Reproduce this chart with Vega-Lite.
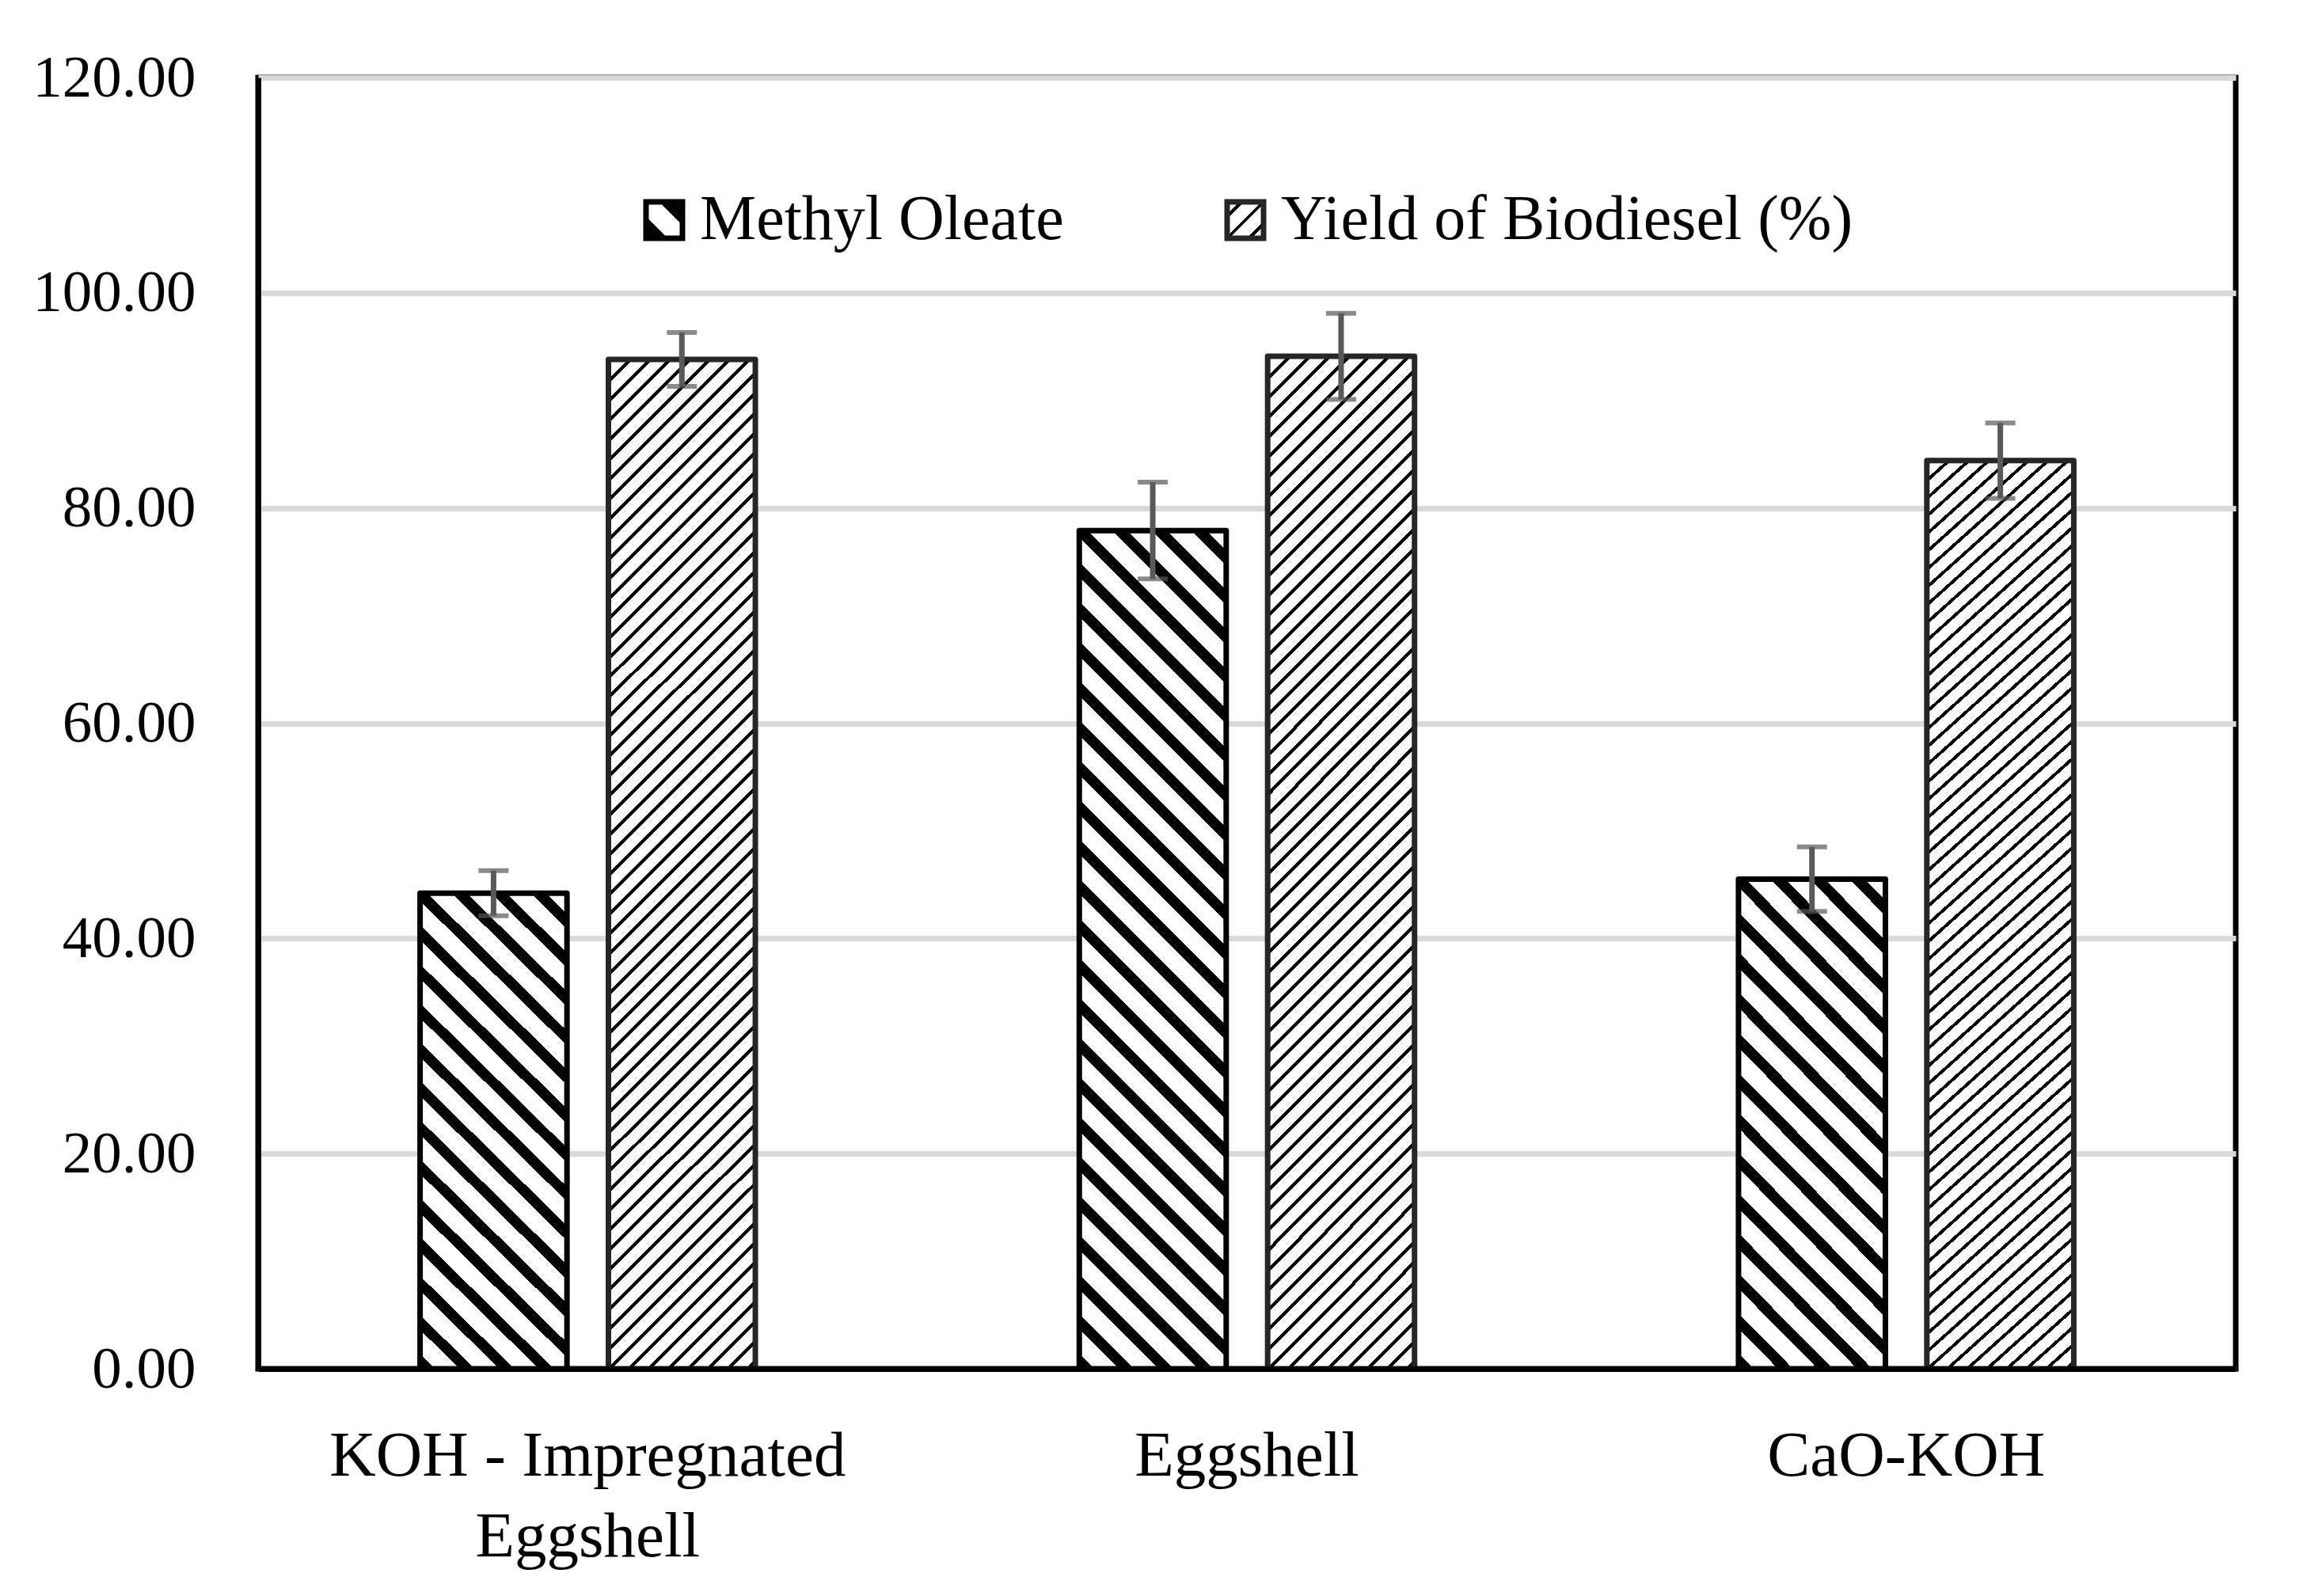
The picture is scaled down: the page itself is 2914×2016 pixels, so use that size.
{
  "$schema": "https://vega.github.io/schema/vega-lite/v6.json",
  "width": 2498,
  "height": 1631,
  "autosize": {"type": "none"},
  "padding": {"left": 326, "top": 98, "right": 90, "bottom": 287},
  "background": "white",
  "config": {
    "font": "Liberation Serif",
    "view": {"stroke": "#000000", "strokeWidth": 7},
    "axis": {"labelFont": "Liberation Serif", "labelColor": "#000000"},
    "legend": {"labelFont": "Liberation Serif", "labelColor": "#000000"}
  },
  "data": {
    "values": [
      {"cat": "KOH - Impregnated Eggshell", "series": "Methyl Oleate", "value": 44.2, "lo": 42.1, "hi": 46.3},
      {"cat": "KOH - Impregnated Eggshell", "series": "Yield of Biodiesel (%)", "value": 93.8, "lo": 91.3, "hi": 96.3},
      {"cat": "Eggshell", "series": "Methyl Oleate", "value": 77.9, "lo": 73.4, "hi": 82.4},
      {"cat": "Eggshell", "series": "Yield of Biodiesel (%)", "value": 94.1, "lo": 90.1, "hi": 98.1},
      {"cat": "CaO-KOH", "series": "Methyl Oleate", "value": 45.5, "lo": 42.5, "hi": 48.5},
      {"cat": "CaO-KOH", "series": "Yield of Biodiesel (%)", "value": 84.4, "lo": 80.9, "hi": 87.9}
    ]
  },
  "encoding": {
    "x": {
      "field": "cat", "type": "nominal", "sort": null,
      "scale": {"paddingInner": 0, "paddingOuter": 0},
      "axis": {
        "title": null, "ticks": false, "grid": false, "labelAngle": 0,
        "labelFontSize": 81, "labelPadding": 70, "labelLineHeight": 102, "labelLimit": 1000,
        "labelBaseline": "top", "domainColor": "#000000", "domainWidth": 7, "zindex": 1,
        "labelExpr": "datum.label === 'KOH - Impregnated Eggshell' ? ['KOH - Impregnated', 'Eggshell'] : datum.label"
      }
    },
    "xOffset": {"field": "series", "type": "nominal", "sort": null, "scale": {"domain": ["Methyl Oleate", "Yield of Biodiesel (%)"], "paddingInner": 0.22, "paddingOuter": 0.86}}
  },
  "resolve": {"scale": {"stroke": "independent"}, "legend": {"stroke": "independent"}},
  "layer": [
    {
      "transform": [{"filter": "datum.series === 'Methyl Oleate'"}],
      "mark": {"type": "bar", "strokeWidth": 7, "strokeJoin": "round", "stroke": "#000000"},
      "encoding": {
        "y": {
          "field": "value", "type": "quantitative", "title": null,
          "scale": {"domain": [0, 120], "nice": false},
          "axis": {
            "values": [0, 20, 40, 60, 80, 100, 120], "format": ".2f", "labelFontSize": 75, "labelLimit": 1000,
            "labelPadding": 79, "ticks": false, "domainColor": "#000000", "domainWidth": 7,
            "gridColor": "#d9d9d9", "gridWidth": 7, "zindex": 0
          }
        },
        "fill": {
          "condition": {"test": "datum.cat === 'Eggshell'", "value": {"gradient": "linear", "x1": 0, "y1": 1, "x2": 0.1999, "y2": -0.1402, "stops": [
              {"offset": 0, "color": "#000"}, {"offset": 0.0153, "color": "#000"}, {"offset": 0.0153, "color": "#fff"},
              {"offset": 0.0402, "color": "#fff"}, {"offset": 0.0402, "color": "#000"}, {"offset": 0.0554, "color": "#000"}, {"offset": 0.0554, "color": "#fff"},
              {"offset": 0.0804, "color": "#fff"}, {"offset": 0.0804, "color": "#000"}, {"offset": 0.0956, "color": "#000"}, {"offset": 0.0956, "color": "#fff"},
              {"offset": 0.1205, "color": "#fff"}, {"offset": 0.1205, "color": "#000"}, {"offset": 0.1358, "color": "#000"}, {"offset": 0.1358, "color": "#fff"},
              {"offset": 0.1607, "color": "#fff"}, {"offset": 0.1607, "color": "#000"}, {"offset": 0.1760, "color": "#000"}, {"offset": 0.1760, "color": "#fff"},
              {"offset": 0.2009, "color": "#fff"}, {"offset": 0.2009, "color": "#000"}, {"offset": 0.2162, "color": "#000"}, {"offset": 0.2162, "color": "#fff"},
              {"offset": 0.2411, "color": "#fff"}, {"offset": 0.2411, "color": "#000"}, {"offset": 0.2563, "color": "#000"}, {"offset": 0.2563, "color": "#fff"},
              {"offset": 0.2813, "color": "#fff"}, {"offset": 0.2813, "color": "#000"}, {"offset": 0.2965, "color": "#000"}, {"offset": 0.2965, "color": "#fff"},
              {"offset": 0.3214, "color": "#fff"}, {"offset": 0.3214, "color": "#000"}, {"offset": 0.3367, "color": "#000"}, {"offset": 0.3367, "color": "#fff"},
              {"offset": 0.3616, "color": "#fff"}, {"offset": 0.3616, "color": "#000"}, {"offset": 0.3769, "color": "#000"}, {"offset": 0.3769, "color": "#fff"},
              {"offset": 0.4018, "color": "#fff"}, {"offset": 0.4018, "color": "#000"}, {"offset": 0.4171, "color": "#000"}, {"offset": 0.4171, "color": "#fff"},
              {"offset": 0.4420, "color": "#fff"}, {"offset": 0.4420, "color": "#000"}, {"offset": 0.4572, "color": "#000"}, {"offset": 0.4572, "color": "#fff"},
              {"offset": 0.4822, "color": "#fff"}, {"offset": 0.4822, "color": "#000"}, {"offset": 0.4974, "color": "#000"}, {"offset": 0.4974, "color": "#fff"},
              {"offset": 0.5223, "color": "#fff"}, {"offset": 0.5223, "color": "#000"}, {"offset": 0.5376, "color": "#000"}, {"offset": 0.5376, "color": "#fff"},
              {"offset": 0.5625, "color": "#fff"}, {"offset": 0.5625, "color": "#000"}, {"offset": 0.5778, "color": "#000"}, {"offset": 0.5778, "color": "#fff"},
              {"offset": 0.6027, "color": "#fff"}, {"offset": 0.6027, "color": "#000"}, {"offset": 0.6180, "color": "#000"}, {"offset": 0.6180, "color": "#fff"},
              {"offset": 0.6429, "color": "#fff"}, {"offset": 0.6429, "color": "#000"}, {"offset": 0.6581, "color": "#000"}, {"offset": 0.6581, "color": "#fff"},
              {"offset": 0.6831, "color": "#fff"}, {"offset": 0.6831, "color": "#000"}, {"offset": 0.6983, "color": "#000"}, {"offset": 0.6983, "color": "#fff"},
              {"offset": 0.7232, "color": "#fff"}, {"offset": 0.7232, "color": "#000"}, {"offset": 0.7385, "color": "#000"}, {"offset": 0.7385, "color": "#fff"},
              {"offset": 0.7634, "color": "#fff"}, {"offset": 0.7634, "color": "#000"}, {"offset": 0.7787, "color": "#000"}, {"offset": 0.7787, "color": "#fff"},
              {"offset": 0.8036, "color": "#fff"}, {"offset": 0.8036, "color": "#000"}, {"offset": 0.8189, "color": "#000"}, {"offset": 0.8189, "color": "#fff"},
              {"offset": 0.8438, "color": "#fff"}, {"offset": 0.8438, "color": "#000"}, {"offset": 0.8590, "color": "#000"}, {"offset": 0.8590, "color": "#fff"},
              {"offset": 0.8840, "color": "#fff"}, {"offset": 0.8840, "color": "#000"}, {"offset": 0.8992, "color": "#000"}, {"offset": 0.8992, "color": "#fff"},
              {"offset": 0.9241, "color": "#fff"}, {"offset": 0.9241, "color": "#000"}, {"offset": 0.9394, "color": "#000"}, {"offset": 0.9394, "color": "#fff"},
              {"offset": 0.9643, "color": "#fff"}, {"offset": 0.9643, "color": "#000"}, {"offset": 0.9796, "color": "#000"}, {"offset": 0.9796, "color": "#fff"},
              {"offset": 1, "color": "#fff"}]}},
          "value": {"gradient": "linear", "x1": 0, "y1": 1, "x2": 0.3632, "y2": -0.1938, "stops": [
              {"offset": 0, "color": "#000"}, {"offset": 0.0239, "color": "#000"}, {"offset": 0.0239, "color": "#fff"},
              {"offset": 0.0628, "color": "#fff"}, {"offset": 0.0628, "color": "#000"}, {"offset": 0.0867, "color": "#000"}, {"offset": 0.0867, "color": "#fff"},
              {"offset": 0.1257, "color": "#fff"}, {"offset": 0.1257, "color": "#000"}, {"offset": 0.1496, "color": "#000"}, {"offset": 0.1496, "color": "#fff"},
              {"offset": 0.1885, "color": "#fff"}, {"offset": 0.1885, "color": "#000"}, {"offset": 0.2124, "color": "#000"}, {"offset": 0.2124, "color": "#fff"},
              {"offset": 0.2514, "color": "#fff"}, {"offset": 0.2514, "color": "#000"}, {"offset": 0.2753, "color": "#000"}, {"offset": 0.2753, "color": "#fff"},
              {"offset": 0.3142, "color": "#fff"}, {"offset": 0.3142, "color": "#000"}, {"offset": 0.3381, "color": "#000"}, {"offset": 0.3381, "color": "#fff"},
              {"offset": 0.3771, "color": "#fff"}, {"offset": 0.3771, "color": "#000"}, {"offset": 0.4010, "color": "#000"}, {"offset": 0.4010, "color": "#fff"},
              {"offset": 0.4399, "color": "#fff"}, {"offset": 0.4399, "color": "#000"}, {"offset": 0.4638, "color": "#000"}, {"offset": 0.4638, "color": "#fff"},
              {"offset": 0.5028, "color": "#fff"}, {"offset": 0.5028, "color": "#000"}, {"offset": 0.5267, "color": "#000"}, {"offset": 0.5267, "color": "#fff"},
              {"offset": 0.5656, "color": "#fff"}, {"offset": 0.5656, "color": "#000"}, {"offset": 0.5895, "color": "#000"}, {"offset": 0.5895, "color": "#fff"},
              {"offset": 0.6285, "color": "#fff"}, {"offset": 0.6285, "color": "#000"}, {"offset": 0.6524, "color": "#000"}, {"offset": 0.6524, "color": "#fff"},
              {"offset": 0.6913, "color": "#fff"}, {"offset": 0.6913, "color": "#000"}, {"offset": 0.7152, "color": "#000"}, {"offset": 0.7152, "color": "#fff"},
              {"offset": 0.7542, "color": "#fff"}, {"offset": 0.7542, "color": "#000"}, {"offset": 0.7781, "color": "#000"}, {"offset": 0.7781, "color": "#fff"},
              {"offset": 0.8170, "color": "#fff"}, {"offset": 0.8170, "color": "#000"}, {"offset": 0.8409, "color": "#000"}, {"offset": 0.8409, "color": "#fff"},
              {"offset": 0.8798, "color": "#fff"}, {"offset": 0.8798, "color": "#000"}, {"offset": 0.9037, "color": "#000"}, {"offset": 0.9037, "color": "#fff"},
              {"offset": 0.9427, "color": "#fff"}, {"offset": 0.9427, "color": "#000"}, {"offset": 0.9666, "color": "#000"}, {"offset": 0.9666, "color": "#fff"},
              {"offset": 1, "color": "#fff"}]}
        }
      }
    },
    {
      "transform": [{"filter": "datum.series === 'Yield of Biodiesel (%)'"}],
      "mark": {"type": "bar", "strokeWidth": 7, "strokeJoin": "round", "stroke": "#262626"},
      "encoding": {
        "y": {"field": "value", "type": "quantitative", "title": null, "scale": {"domain": [0, 120], "nice": false}},
        "fill": {
          "value": {"gradient": "linear", "x1": 0, "y1": 0, "x2": 0.1630, "y2": 1.1217, "stops": [
            {"offset": 0, "color": "#000"}, {"offset": 0.0041, "color": "#000"}, {"offset": 0.0041, "color": "#fff"},
            {"offset": 0.0171, "color": "#fff"}, {"offset": 0.0171, "color": "#000"}, {"offset": 0.0212, "color": "#000"}, {"offset": 0.0212, "color": "#fff"},
            {"offset": 0.0342, "color": "#fff"}, {"offset": 0.0342, "color": "#000"}, {"offset": 0.0383, "color": "#000"}, {"offset": 0.0383, "color": "#fff"},
            {"offset": 0.0513, "color": "#fff"}, {"offset": 0.0513, "color": "#000"}, {"offset": 0.0554, "color": "#000"}, {"offset": 0.0554, "color": "#fff"},
            {"offset": 0.0684, "color": "#fff"}, {"offset": 0.0684, "color": "#000"}, {"offset": 0.0725, "color": "#000"}, {"offset": 0.0725, "color": "#fff"},
            {"offset": 0.0855, "color": "#fff"}, {"offset": 0.0855, "color": "#000"}, {"offset": 0.0896, "color": "#000"}, {"offset": 0.0896, "color": "#fff"},
            {"offset": 0.1026, "color": "#fff"}, {"offset": 0.1026, "color": "#000"}, {"offset": 0.1067, "color": "#000"}, {"offset": 0.1067, "color": "#fff"},
            {"offset": 0.1197, "color": "#fff"}, {"offset": 0.1197, "color": "#000"}, {"offset": 0.1238, "color": "#000"}, {"offset": 0.1238, "color": "#fff"},
            {"offset": 0.1367, "color": "#fff"}, {"offset": 0.1367, "color": "#000"}, {"offset": 0.1408, "color": "#000"}, {"offset": 0.1408, "color": "#fff"},
            {"offset": 0.1538, "color": "#fff"}, {"offset": 0.1538, "color": "#000"}, {"offset": 0.1579, "color": "#000"}, {"offset": 0.1579, "color": "#fff"},
            {"offset": 0.1709, "color": "#fff"}, {"offset": 0.1709, "color": "#000"}, {"offset": 0.1750, "color": "#000"}, {"offset": 0.1750, "color": "#fff"},
            {"offset": 0.1880, "color": "#fff"}, {"offset": 0.1880, "color": "#000"}, {"offset": 0.1921, "color": "#000"}, {"offset": 0.1921, "color": "#fff"},
            {"offset": 0.2051, "color": "#fff"}, {"offset": 0.2051, "color": "#000"}, {"offset": 0.2092, "color": "#000"}, {"offset": 0.2092, "color": "#fff"},
            {"offset": 0.2222, "color": "#fff"}, {"offset": 0.2222, "color": "#000"}, {"offset": 0.2263, "color": "#000"}, {"offset": 0.2263, "color": "#fff"},
            {"offset": 0.2393, "color": "#fff"}, {"offset": 0.2393, "color": "#000"}, {"offset": 0.2434, "color": "#000"}, {"offset": 0.2434, "color": "#fff"},
            {"offset": 0.2564, "color": "#fff"}, {"offset": 0.2564, "color": "#000"}, {"offset": 0.2605, "color": "#000"}, {"offset": 0.2605, "color": "#fff"},
            {"offset": 0.2735, "color": "#fff"}, {"offset": 0.2735, "color": "#000"}, {"offset": 0.2776, "color": "#000"}, {"offset": 0.2776, "color": "#fff"},
            {"offset": 0.2906, "color": "#fff"}, {"offset": 0.2906, "color": "#000"}, {"offset": 0.2947, "color": "#000"}, {"offset": 0.2947, "color": "#fff"},
            {"offset": 0.3077, "color": "#fff"}, {"offset": 0.3077, "color": "#000"}, {"offset": 0.3118, "color": "#000"}, {"offset": 0.3118, "color": "#fff"},
            {"offset": 0.3248, "color": "#fff"}, {"offset": 0.3248, "color": "#000"}, {"offset": 0.3289, "color": "#000"}, {"offset": 0.3289, "color": "#fff"},
            {"offset": 0.3419, "color": "#fff"}, {"offset": 0.3419, "color": "#000"}, {"offset": 0.3460, "color": "#000"}, {"offset": 0.3460, "color": "#fff"},
            {"offset": 0.3590, "color": "#fff"}, {"offset": 0.3590, "color": "#000"}, {"offset": 0.3631, "color": "#000"}, {"offset": 0.3631, "color": "#fff"},
            {"offset": 0.3760, "color": "#fff"}, {"offset": 0.3760, "color": "#000"}, {"offset": 0.3801, "color": "#000"}, {"offset": 0.3801, "color": "#fff"},
            {"offset": 0.3931, "color": "#fff"}, {"offset": 0.3931, "color": "#000"}, {"offset": 0.3972, "color": "#000"}, {"offset": 0.3972, "color": "#fff"},
            {"offset": 0.4102, "color": "#fff"}, {"offset": 0.4102, "color": "#000"}, {"offset": 0.4143, "color": "#000"}, {"offset": 0.4143, "color": "#fff"},
            {"offset": 0.4273, "color": "#fff"}, {"offset": 0.4273, "color": "#000"}, {"offset": 0.4314, "color": "#000"}, {"offset": 0.4314, "color": "#fff"},
            {"offset": 0.4444, "color": "#fff"}, {"offset": 0.4444, "color": "#000"}, {"offset": 0.4485, "color": "#000"}, {"offset": 0.4485, "color": "#fff"},
            {"offset": 0.4615, "color": "#fff"}, {"offset": 0.4615, "color": "#000"}, {"offset": 0.4656, "color": "#000"}, {"offset": 0.4656, "color": "#fff"},
            {"offset": 0.4786, "color": "#fff"}, {"offset": 0.4786, "color": "#000"}, {"offset": 0.4827, "color": "#000"}, {"offset": 0.4827, "color": "#fff"},
            {"offset": 0.4957, "color": "#fff"}, {"offset": 0.4957, "color": "#000"}, {"offset": 0.4998, "color": "#000"}, {"offset": 0.4998, "color": "#fff"},
            {"offset": 0.5128, "color": "#fff"}, {"offset": 0.5128, "color": "#000"}, {"offset": 0.5169, "color": "#000"}, {"offset": 0.5169, "color": "#fff"},
            {"offset": 0.5299, "color": "#fff"}, {"offset": 0.5299, "color": "#000"}, {"offset": 0.5340, "color": "#000"}, {"offset": 0.5340, "color": "#fff"},
            {"offset": 0.5470, "color": "#fff"}, {"offset": 0.5470, "color": "#000"}, {"offset": 0.5511, "color": "#000"}, {"offset": 0.5511, "color": "#fff"},
            {"offset": 0.5641, "color": "#fff"}, {"offset": 0.5641, "color": "#000"}, {"offset": 0.5682, "color": "#000"}, {"offset": 0.5682, "color": "#fff"},
            {"offset": 0.5812, "color": "#fff"}, {"offset": 0.5812, "color": "#000"}, {"offset": 0.5853, "color": "#000"}, {"offset": 0.5853, "color": "#fff"},
            {"offset": 0.5983, "color": "#fff"}, {"offset": 0.5983, "color": "#000"}, {"offset": 0.6024, "color": "#000"}, {"offset": 0.6024, "color": "#fff"},
            {"offset": 0.6153, "color": "#fff"}, {"offset": 0.6153, "color": "#000"}, {"offset": 0.6194, "color": "#000"}, {"offset": 0.6194, "color": "#fff"},
            {"offset": 0.6324, "color": "#fff"}, {"offset": 0.6324, "color": "#000"}, {"offset": 0.6365, "color": "#000"}, {"offset": 0.6365, "color": "#fff"},
            {"offset": 0.6495, "color": "#fff"}, {"offset": 0.6495, "color": "#000"}, {"offset": 0.6536, "color": "#000"}, {"offset": 0.6536, "color": "#fff"},
            {"offset": 0.6666, "color": "#fff"}, {"offset": 0.6666, "color": "#000"}, {"offset": 0.6707, "color": "#000"}, {"offset": 0.6707, "color": "#fff"},
            {"offset": 0.6837, "color": "#fff"}, {"offset": 0.6837, "color": "#000"}, {"offset": 0.6878, "color": "#000"}, {"offset": 0.6878, "color": "#fff"},
            {"offset": 0.7008, "color": "#fff"}, {"offset": 0.7008, "color": "#000"}, {"offset": 0.7049, "color": "#000"}, {"offset": 0.7049, "color": "#fff"},
            {"offset": 0.7179, "color": "#fff"}, {"offset": 0.7179, "color": "#000"}, {"offset": 0.7220, "color": "#000"}, {"offset": 0.7220, "color": "#fff"},
            {"offset": 0.7350, "color": "#fff"}, {"offset": 0.7350, "color": "#000"}, {"offset": 0.7391, "color": "#000"}, {"offset": 0.7391, "color": "#fff"},
            {"offset": 0.7521, "color": "#fff"}, {"offset": 0.7521, "color": "#000"}, {"offset": 0.7562, "color": "#000"}, {"offset": 0.7562, "color": "#fff"},
            {"offset": 0.7692, "color": "#fff"}, {"offset": 0.7692, "color": "#000"}, {"offset": 0.7733, "color": "#000"}, {"offset": 0.7733, "color": "#fff"},
            {"offset": 0.7863, "color": "#fff"}, {"offset": 0.7863, "color": "#000"}, {"offset": 0.7904, "color": "#000"}, {"offset": 0.7904, "color": "#fff"},
            {"offset": 0.8034, "color": "#fff"}, {"offset": 0.8034, "color": "#000"}, {"offset": 0.8075, "color": "#000"}, {"offset": 0.8075, "color": "#fff"},
            {"offset": 0.8205, "color": "#fff"}, {"offset": 0.8205, "color": "#000"}, {"offset": 0.8246, "color": "#000"}, {"offset": 0.8246, "color": "#fff"},
            {"offset": 0.8376, "color": "#fff"}, {"offset": 0.8376, "color": "#000"}, {"offset": 0.8417, "color": "#000"}, {"offset": 0.8417, "color": "#fff"},
            {"offset": 0.8547, "color": "#fff"}, {"offset": 0.8547, "color": "#000"}, {"offset": 0.8588, "color": "#000"}, {"offset": 0.8588, "color": "#fff"},
            {"offset": 0.8717, "color": "#fff"}, {"offset": 0.8717, "color": "#000"}, {"offset": 0.8758, "color": "#000"}, {"offset": 0.8758, "color": "#fff"},
            {"offset": 0.8888, "color": "#fff"}, {"offset": 0.8888, "color": "#000"}, {"offset": 0.8929, "color": "#000"}, {"offset": 0.8929, "color": "#fff"},
            {"offset": 0.9059, "color": "#fff"}, {"offset": 0.9059, "color": "#000"}, {"offset": 0.9100, "color": "#000"}, {"offset": 0.9100, "color": "#fff"},
            {"offset": 0.9230, "color": "#fff"}, {"offset": 0.9230, "color": "#000"}, {"offset": 0.9271, "color": "#000"}, {"offset": 0.9271, "color": "#fff"},
            {"offset": 0.9401, "color": "#fff"}, {"offset": 0.9401, "color": "#000"}, {"offset": 0.9442, "color": "#000"}, {"offset": 0.9442, "color": "#fff"},
            {"offset": 0.9572, "color": "#fff"}, {"offset": 0.9572, "color": "#000"}, {"offset": 0.9613, "color": "#000"}, {"offset": 0.9613, "color": "#fff"},
            {"offset": 0.9743, "color": "#fff"}, {"offset": 0.9743, "color": "#000"}, {"offset": 0.9784, "color": "#000"}, {"offset": 0.9784, "color": "#fff"},
            {"offset": 0.9914, "color": "#fff"}, {"offset": 0.9914, "color": "#000"}, {"offset": 0.9955, "color": "#000"}, {"offset": 0.9955, "color": "#fff"},
            {"offset": 1, "color": "#fff"}]}
        }
      }
    },
    {
      "transform": [{"filter": "datum.series === 'Methyl Oleate'"}],
      "mark": {"type": "bar", "opacity": 0, "strokeWidth": 7,
        "fill": {"gradient": "linear", "x1": 0, "y1": 1, "x2": 1, "y2": 0, "stops": [
          {"offset": 0, "color": "#000"}, {"offset": 0.3, "color": "#000"}, {"offset": 0.3, "color": "#fff"},
          {"offset": 0.68, "color": "#fff"}, {"offset": 0.68, "color": "#000"}, {"offset": 0.92, "color": "#000"},
          {"offset": 0.92, "color": "#fff"}, {"offset": 0.97, "color": "#fff"}, {"offset": 0.97, "color": "#000"}, {"offset": 1, "color": "#000"}]}},
      "encoding": {
        "y": {"field": "value", "type": "quantitative", "title": null, "scale": {"domain": [0, 120], "nice": false}},
        "stroke": {
          "field": "series", "type": "nominal",
          "scale": {"range": ["#000000"]},
          "legend": {
            "title": null, "orient": "none", "legendX": 473, "legendY": 140,
            "symbolType": "square", "symbolSize": 2116, "symbolStrokeWidth": 7, "symbolOpacity": 1,
            "labelFontSize": 80, "labelOffset": 5, "labelLimit": 1000, "padding": 0
          }
        }
      }
    },
    {
      "transform": [{"filter": "datum.series === 'Yield of Biodiesel (%)'"}],
      "mark": {"type": "bar", "opacity": 0, "strokeWidth": 7,
        "fill": {"gradient": "linear", "x1": 0, "y1": 0, "x2": 1, "y2": 1, "stops": [
          {"offset": 0, "color": "#fff"}, {"offset": 0.17, "color": "#fff"}, {"offset": 0.17, "color": "#000"}, {"offset": 0.23, "color": "#000"}, {"offset": 0.23, "color": "#fff"},
          {"offset": 0.47, "color": "#fff"}, {"offset": 0.47, "color": "#000"}, {"offset": 0.53, "color": "#000"}, {"offset": 0.53, "color": "#fff"},
          {"offset": 0.77, "color": "#fff"}, {"offset": 0.77, "color": "#000"}, {"offset": 0.83, "color": "#000"}, {"offset": 0.83, "color": "#fff"},
          {"offset": 1, "color": "#fff"}]}},
      "encoding": {
        "y": {"field": "value", "type": "quantitative", "title": null, "scale": {"domain": [0, 120], "nice": false}},
        "stroke": {
          "field": "series", "type": "nominal",
          "scale": {"range": ["#262626"]},
          "legend": {
            "title": null, "orient": "none", "legendX": 1207, "legendY": 140,
            "symbolType": "square", "symbolSize": 2116, "symbolStrokeWidth": 7, "symbolOpacity": 1,
            "labelFontSize": 80, "labelOffset": 5, "labelLimit": 1000, "padding": 0
          }
        }
      }
    },
    {
      "mark": {"type": "rule", "color": "#595959", "strokeWidth": 7},
      "encoding": {
        "y": {"field": "lo", "type": "quantitative", "title": null, "scale": {"domain": [0, 120], "nice": false}},
        "y2": {"field": "hi"}
      }
    },
    {
      "mark": {"type": "tick", "color": "#595959", "size": 38, "thickness": 6},
      "encoding": {
        "y": {"field": "lo", "type": "quantitative", "title": null, "scale": {"domain": [0, 120], "nice": false}}
      }
    },
    {
      "mark": {"type": "tick", "color": "#595959", "size": 38, "thickness": 6},
      "encoding": {
        "y": {"field": "hi", "type": "quantitative", "title": null, "scale": {"domain": [0, 120], "nice": false}}
      }
    }
  ]
}
